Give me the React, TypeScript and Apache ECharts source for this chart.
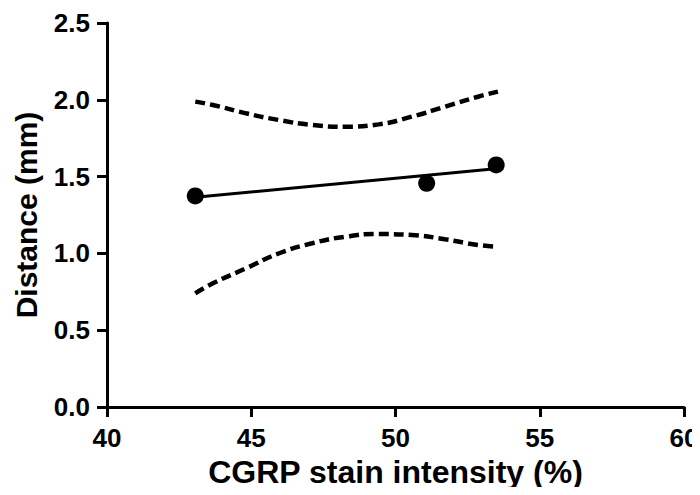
import React, { useEffect, useRef } from "react";
import * as echarts from "echarts";

const pointX = [43.06, 51.08, 53.49];
const pointY = [1.374, 1.456, 1.576];

const fitX = [43.06, 53.55];
const fitY = [1.366, 1.552];

const bandX = [43.06, 43.67, 44.82, 45.97, 47.11, 48.27, 49.41, 50.56, 51.71, 52.86, 53.55];
const upperY = [1.988, 1.966, 1.912, 1.868, 1.836, 1.825, 1.84, 1.89, 1.955, 2.02, 2.053];
const lowerY = [0.74, 0.805, 0.903, 1.001, 1.066, 1.109, 1.126, 1.12, 1.092, 1.055, 1.044];

const xTitle = "CGRP stain intensity (%)";
const yTitle = "Distance (mm)";

const zip = (xs: number[], ys: number[]) => xs.map((x, i) => [x, ys[i]]);

export default function App() {
  const ref = useRef<HTMLDivElement>(null);
  useEffect(() => {
    if (!ref.current) return;
    const chart = echarts.init(ref.current, null, { renderer: "svg" });
    const font = "Liberation Sans, Arial, sans-serif";
    const axisCommon = {
      axisLine: { show: true, lineStyle: { color: "#000", width: 3 } },
      axisTick: { show: true, length: 10, lineStyle: { color: "#000", width: 3 } },
      splitLine: { show: false },
      nameLocation: "middle" as const,
    };
    const dashed = {
      type: "line" as const,
      smooth: true,
      showSymbol: false,
      symbol: "none",
      lineStyle: { color: "#000", width: 4.5, type: [10, 5] as any },
    };
    chart.setOption({
      animation: false,
      textStyle: { fontFamily: font },
      grid: {
        left: 107,
        right: 16,
        top: 23,
        bottom: 88,
        containLabel: false,
        outerBoundsMode: "none",
      },
      xAxis: {
        ...axisCommon,
        type: "value",
        min: 40,
        max: 60,
        interval: 5,
        name: xTitle,
        nameGap: 49,
        nameTextStyle: { color: "#000", fontSize: 32, fontWeight: "bold", fontFamily: font },
        axisLabel: {
          color: "#000",
          fontSize: 26,
          fontWeight: "bold",
          fontFamily: font,
          margin: 18,
          hideOverlap: false,
        },
      },
      yAxis: {
        ...axisCommon,
        type: "value",
        min: 0,
        max: 2.5,
        interval: 0.5,
        name: yTitle,
        nameGap: 66,
        nameTextStyle: { color: "#000", fontSize: 30, fontWeight: "bold", fontFamily: font },
        axisLabel: {
          show: true,
          color: "#000",
          fontSize: 26,
          fontWeight: "bold",
          fontFamily: font,
          margin: 17,
          formatter: (v: number) => v.toFixed(1),
        },
      },
      series: [
        { ...dashed, data: zip(bandX, upperY) },
        { ...dashed, data: zip(bandX, lowerY) },
        {
          type: "line",
          showSymbol: false,
          symbol: "none",
          lineStyle: { color: "#000", width: 3 },
          data: zip(fitX, fitY),
        },
        {
          type: "scatter",
          symbol: "circle",
          symbolSize: 17,
          itemStyle: { color: "#000", opacity: 1 },
          data: zip(pointX, pointY),
        },
      ],
    });
    return () => chart.dispose();
  }, []);
  return <div ref={ref} style={{ width: 700, height: 495, margin: -8 }} />;
}
